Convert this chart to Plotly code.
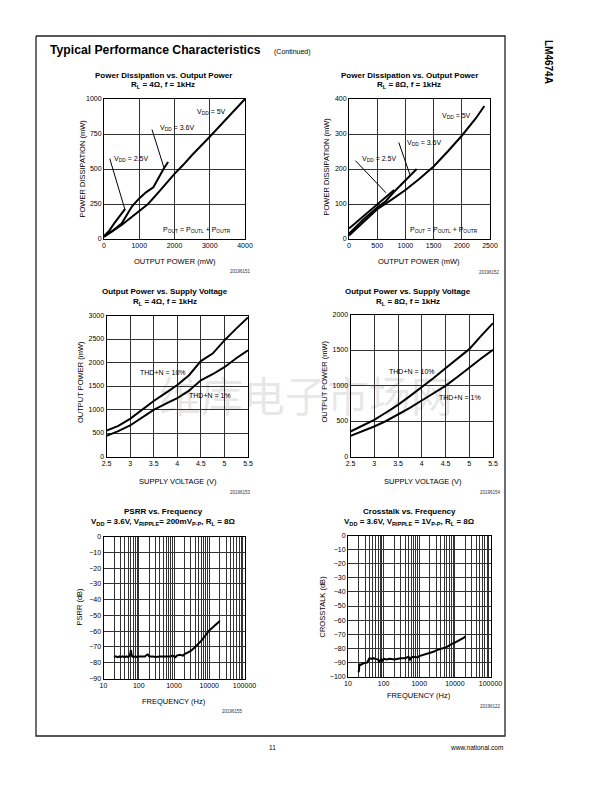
import plotly.graph_objects as go

W, H = 612, 792
OFF = 8  # the page body places the figure 8 px from the window's top-left corner
FONT = "Liberation Sans"

# ---------------- data ----------------
# Power dissipation vs output power, RL = 4 ohm
pd4_5v_x = [0, 250, 500, 750, 1000, 1250, 1500, 1750, 2000, 2250, 2500, 3000, 3500, 4000]
pd4_5v_y = [15, 55, 100, 150, 200, 250, 320, 395, 465, 530, 600, 730, 865, 1000]
pd4_36v_x = [0, 250, 500, 650, 800, 1000, 1200, 1400, 1550, 1700, 1820]
pd4_36v_y = [20, 60, 110, 170, 235, 290, 335, 370, 440, 505, 550]
pd4_25v_x = [0, 150, 300, 450, 520, 600]
pd4_25v_y = [20, 60, 115, 165, 185, 215]

# Power dissipation vs output power, RL = 8 ohm
pd8_5v_x = [0, 250, 500, 750, 1000, 1250, 1500, 1750, 2000, 2250, 2400]
pd8_5v_y = [10, 48, 85, 112, 140, 172, 207, 250, 295, 345, 380]
pd8_36v_x = [0, 250, 500, 650, 800, 1000, 1200]
pd8_36v_y = [15, 55, 90, 108, 135, 168, 200]
pd8_25v_x = [0, 200, 400, 600, 800]
pd8_25v_y = [30, 58, 85, 112, 140]

# Output power vs supply voltage
vdd = [2.5, 2.75, 3.0, 3.25, 3.5, 3.75, 4.0, 4.25, 4.5, 4.75, 5.0, 5.25, 5.5]
po4_thd10 = [550, 650, 800, 1000, 1180, 1350, 1520, 1730, 2030, 2190, 2470, 2720, 2960]
po4_thd1 = [440, 540, 660, 820, 990, 1120, 1240, 1400, 1620, 1750, 1900, 2090, 2260]
po8_thd10 = [352, 430, 516, 620, 728, 850, 976, 1105, 1244, 1375, 1512, 1700, 1878]
po8_thd1 = [291, 352, 423, 500, 587, 685, 789, 890, 995, 1120, 1254, 1380, 1502]

# PSRR vs frequency
psrr_f = [20, 22, 25, 28, 30, 35, 40, 45, 50, 55, 58, 60, 62, 65, 70, 80, 90, 100, 120, 150,
          170, 180, 190, 200, 250, 300, 400, 500, 600, 700, 800, 900, 1000, 1100, 1200, 1500,
          1800, 2000, 2500, 3000, 4000, 5000, 6000, 7000, 8000, 10000, 12000, 15000, 18000, 20000]
psrr_db = [-76.5, -76, -76.5, -76, -76.5, -76, -76.5, -76, -76.5, -75.5, -74, -72, -74.5, -76,
           -76.5, -76, -76.5, -76, -76, -76, -75, -74.8, -75.5, -76, -76, -76.3, -76, -76, -76,
           -75.8, -76, -75.5, -76, -76.5, -75.5, -75, -75.5, -74.5, -73.5, -72.5, -70, -68, -66,
           -64, -62, -59.5, -58, -56, -54.5, -53.5]

# Crosstalk vs frequency
ct_f = [20, 20.5, 21, 22, 25, 28, 30, 33, 35, 38, 40, 45, 50, 60, 70, 75, 80, 85, 90, 100, 120,
        150, 200, 250, 300, 400, 500, 550, 600, 700, 800, 900, 1000, 1200, 1500, 2000, 2500,
        3000, 4000, 5000, 6000, 7000, 8000, 10000, 12000, 15000, 18000, 20000]
ct_db = [-97, -93, -91, -92, -91, -90.5, -90.5, -90, -90, -88, -87, -87.5, -87, -87.5, -88, -90,
         -88, -87.5, -89, -87.5, -88, -87.5, -88, -87.5, -87, -87, -86, -88, -86.5, -86, -86,
         -86.5, -85.5, -85, -84, -83.5, -82.5, -81.5, -80.5, -80, -79, -78, -77, -76, -75,
         -73.5, -72.5, -71.5]

log_ticks = [10, 100, 1000, 10000, 100000]
log_ticktext = ["10", "100", "1000", "10000", "100000"]
log_minor = [d * 10 ** k for k in range(1, 5) for d in range(2, 10)]

# page frame corners (page pixels)
frame_x = [36, 505, 505, 36, 36]
frame_y = [36, 36, 736, 736, 36]

# ---------------- geometry helpers (page pixels -> paper fractions) ----------------
def px(x):
    return (x - OFF) / W

def py(y):
    return 1 - (y - OFF) / H

# plot areas in page pixels (left, right, top, bottom)
boxes = [
    (104, 245, 99, 239),
    (349, 490, 99, 239),
    (106.5, 248, 315.5, 456.5),
    (350.5, 493, 314.5, 456.5),
    (103.5, 244.5, 536.5, 678.5),
    (348, 490.5, 535.5, 676.5),
]

fig = go.Figure()
LINE = dict(color="black", width=2)

def add(x, y, i):
    suf = "" if i == 1 else str(i)
    fig.add_trace(go.Scatter(x=x, y=y, mode="lines", line=LINE, showlegend=False,
                             xaxis="x" + suf, yaxis="y" + suf, hoverinfo="skip"))

add(pd4_5v_x, pd4_5v_y, 1)
add(pd4_36v_x, pd4_36v_y, 1)
add(pd4_25v_x, pd4_25v_y, 1)
add(pd8_5v_x, pd8_5v_y, 2)
add(pd8_36v_x, pd8_36v_y, 2)
add(pd8_25v_x, pd8_25v_y, 2)
add(vdd, po4_thd10, 3)
add(vdd, po4_thd1, 3)
add(vdd, po8_thd10, 4)
add(vdd, po8_thd1, 4)
add(psrr_f, psrr_db, 5)
add(ct_f, ct_db, 6)

# page frame on a full-page pixel axis
fig.add_trace(go.Scatter(x=frame_x, y=frame_y, mode="lines", showlegend=False,
                         line=dict(color="#222222", width=1.3), hoverinfo="skip",
                         xaxis="x7", yaxis="y7"))

tickfont = dict(family=FONT, size=7, color="black")
base = dict(showline=True, mirror=True, linecolor="black", linewidth=1,
            showgrid=True, gridcolor="#333333", gridwidth=1, zeroline=False,
            ticks="", tickfont=tickfont, fixedrange=True, automargin=False)

axes_x = [
    dict(range=[0, 4000], tickvals=[0, 1000, 2000, 3000, 4000]),
    dict(range=[0, 2500], tickvals=[0, 500, 1000, 1500, 2000, 2500]),
    dict(range=[2.5, 5.5], tickvals=[2.5, 3, 3.5, 4, 4.5, 5, 5.5],
         ticktext=["2.5", "3", "3.5", "4", "4.5", "5", "5.5"]),
    dict(range=[2.5, 5.5], tickvals=[2.5, 3, 3.5, 4, 4.5, 5, 5.5],
         ticktext=["2.5", "3", "3.5", "4", "4.5", "5", "5.5"]),
    dict(type="log", range=[1, 5], tickvals=log_ticks, ticktext=log_ticktext,
         minor=dict(tickvals=log_minor, showgrid=True, gridcolor="#333333", gridwidth=1, ticks="")),
    dict(type="log", range=[1, 5], tickvals=log_ticks, ticktext=log_ticktext,
         minor=dict(tickvals=log_minor, showgrid=True, gridcolor="#333333", gridwidth=1, ticks="")),
]
axes_y = [
    dict(range=[0, 1000], tickvals=[0, 250, 500, 750, 1000]),
    dict(range=[0, 400], tickvals=[0, 100, 200, 300, 400]),
    dict(range=[0, 3000], tickvals=[0, 500, 1000, 1500, 2000, 2500, 3000]),
    dict(range=[0, 2000], tickvals=[0, 500, 1000, 1500, 2000]),
    dict(range=[-90, 0], tickvals=list(range(-90, 1, 10))),
    dict(range=[-100, 0], tickvals=list(range(-100, 1, 10))),
]

layout = {}
for i, (l, r, t, b) in enumerate(boxes, start=1):
    suf = "" if i == 1 else str(i)
    xa = dict(base, domain=[px(l), px(r)], anchor="y" + suf)
    xa.update(axes_x[i - 1])
    ya = dict(base, domain=[py(b), py(t)], anchor="x" + suf)
    ya.update(axes_y[i - 1])
    layout["xaxis" + suf] = xa
    layout["yaxis" + suf] = ya

# full-page axis whose data units are page pixels
layout["xaxis7"] = dict(domain=[0, 1], range=[OFF, W + OFF], visible=False, fixedrange=True,
                        anchor="y7", automargin=False)
layout["yaxis7"] = dict(domain=[0, 1], range=[H + OFF, OFF], visible=False, fixedrange=True,
                        anchor="x7", automargin=False)

ann = []

def txt(text, x, y, size=7, xanchor="center", bold=False, angle=0, color="black",
        family=FONT, yanchor="middle"):
    if bold:
        text = "<b>" + text + "</b>"
    ann.append(dict(text=text, x=x, y=y, xref="x7", yref="y7",
                    xanchor=xanchor, yanchor=yanchor, showarrow=False, textangle=angle,
                    font=dict(family=family, size=size, color=color)))

# chart titles
titles = [
    ("Power Dissipation vs. Output Power", "R<sub>L</sub> = 4Ω, f = 1kHz", 163, 75, 85),
    ("Power Dissipation vs. Output Power", "R<sub>L</sub> = 8Ω, f = 1kHz", 409, 75, 85),
    ("Output Power vs. Supply Voltage", "R<sub>L</sub> = 4Ω, f = 1kHz", 165, 291.5, 301.5),
    ("Output Power vs. Supply Voltage", "R<sub>L</sub> = 8Ω, f = 1kHz", 408, 291, 301.5),
    ("PSRR vs. Frequency",
     "V<sub>DD</sub> = 3.6V, V<sub>RIPPLE</sub>= 200mV<sub>P-P</sub>, R<sub>L</sub> = 8Ω", 163, 511.5, 521.5),
    ("Crosstalk vs. Frequency",
     "V<sub>DD</sub> = 3.6V, V<sub>RIPPLE</sub> = 1V<sub>P-P</sub>, R<sub>L</sub> = 8Ω", 409, 511, 522),
]
for t1, t2, cx, y1, y2 in titles:
    txt(t1, cx, y1, size=8, bold=True)
    txt(t2, cx, y2, size=8, bold=True)

# axis titles
xt = [("OUTPUT POWER (mW)", 175, 261.5), ("OUTPUT POWER (mW)", 419, 261),
      ("SUPPLY VOLTAGE (V)", 178, 481.5), ("SUPPLY VOLTAGE (V)", 423, 481),
      ("FREQUENCY (Hz)", 174, 701.5), ("FREQUENCY (Hz)", 419, 695)]
for t, x, y in xt:
    txt(t, x, y, size=7.5)
yt = [("POWER DISSIPATION (mW)", 81.5, 169), ("POWER DISSIPATION (mW)", 325.5, 167),
      ("OUTPUT POWER (mW)", 80, 382), ("OUTPUT POWER (mW)", 323.5, 382),
      ("PSRR (dB)", 78.5, 607), ("CROSSTALK (dB)", 321.5, 607)]
for t, x, y in yt:
    txt(t, x, y, size=7.5, angle=-90)

# figure codes
codes = [("20196151", 253, 271), ("20196152", 501.5, 272), ("20196153", 253, 492),
         ("20196154", 503, 492), ("20196155", 245, 711.5), ("20196122", 503, 706.5)]
for t, x, y in codes:
    txt(t, x, y, size=4.5, xanchor="right", color="#333333")

# page header / footer
txt("Typical Performance Characteristics", 48, 50, size=12.2, xanchor="left", bold=True)
txt("(Continued)", 272, 51.5, size=7, xanchor="left")
txt("LM4674A", 549, 38, size=10, bold=True, angle=90, yanchor="top")
txt("11", 272, 747, size=6.5)
txt("www.national.com", 505, 747, size=6.5, xanchor="right")

# watermark
txt("维库电子市场网", 306, 393, size=42, family="Noto Sans CJK SC", color="rgba(0,0,0,0.11)")

# in-plot labels (data coordinates)
def dlabel(text, x, y, i, xanchor="center"):
    suf = "" if i == 1 else str(i)
    ann.append(dict(text=text, x=x, y=y, xref="x" + suf, yref="y" + suf, showarrow=False,
                    xanchor=xanchor, yanchor="middle",
                    font=dict(family=FONT, size=7, color="black")))

def darrow(x0, y0, x1, y1, i):
    suf = "" if i == 1 else str(i)
    ann.append(dict(text="", x=x1, y=y1, ax=x0, ay=y0, xref="x" + suf, yref="y" + suf,
                    axref="x" + suf, ayref="y" + suf, showarrow=True, arrowhead=0,
                    arrowwidth=1, arrowcolor="black", standoff=0, startstandoff=0))

pout = "P<sub>OUT</sub> = P<sub>OUTL</sub> + P<sub>OUTR</sub>"
dlabel("V<sub>DD</sub> = 5V", 3050, 910, 1)
dlabel("V<sub>DD</sub> = 3.6V", 2060, 793, 1)
dlabel("V<sub>DD</sub> = 2.5V", 780, 573, 1)
darrow(1348, 793, 1700, 510, 1)
darrow(150, 585, 590, 214, 1)
dlabel(pout, 2630, 66, 1)

dlabel("V<sub>DD</sub> = 5V", 1903, 351, 2)
dlabel("V<sub>DD</sub> = 3.6V", 1333, 275, 2)
dlabel("V<sub>DD</sub> = 2.5V", 535, 230, 2)
darrow(874, 280, 1082, 183, 2)
darrow(89, 228, 656, 132, 2)
dlabel(pout, 1688, 26, 2)

dlabel("THD+N = 10%", 3.7, 1790, 3)
dlabel("THD+N = 1%", 4.69, 1290, 3)
dlabel("THD+N = 10%", 3.79, 1197, 4)
dlabel("THD+N = 1%", 4.81, 836, 4)

fig.update_layout(width=W, height=H, margin=dict(l=0, r=0, t=0, b=0, autoexpand=False),
                  autosize=False, paper_bgcolor="white", plot_bgcolor="rgba(0,0,0,0)",
                  showlegend=False, annotations=ann, **layout)

fig.write_html("out.html")
